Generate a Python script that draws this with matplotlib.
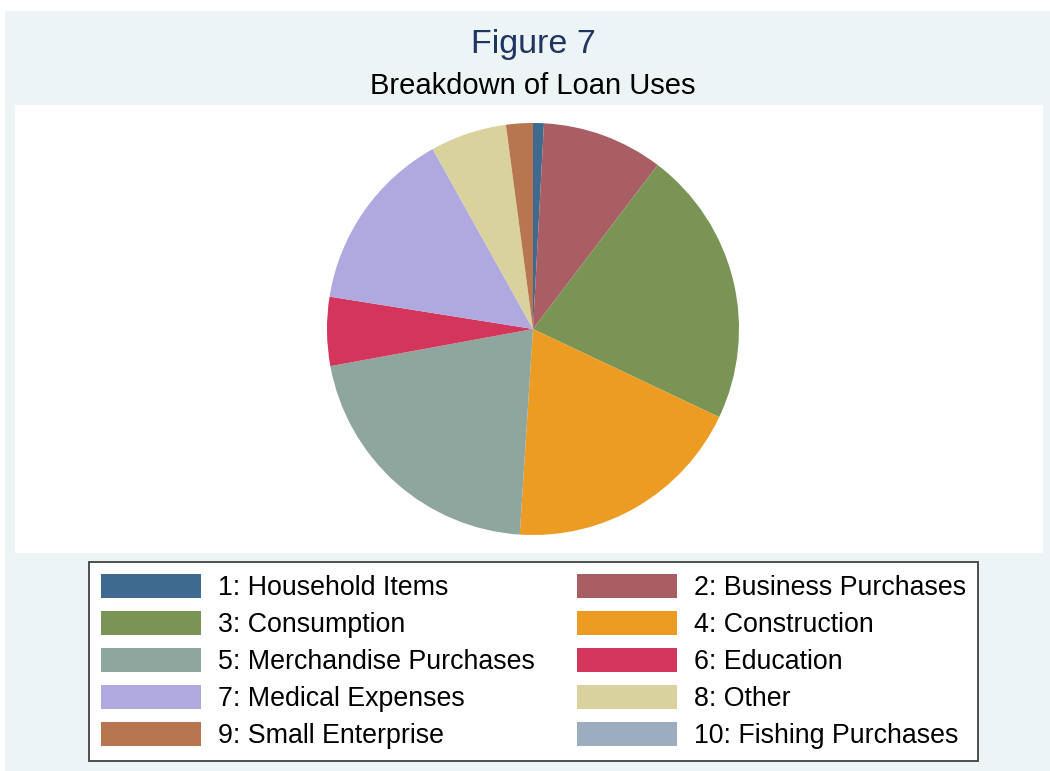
import matplotlib.pyplot as plt
from matplotlib.patches import Rectangle

plt.rcParams['font.family'] = ['Liberation Sans', 'DejaVu Sans']

# loan use shares in percent, clockwise from 12 o'clock
uses = ['1: Household Items', '2: Business Purchases', '3: Consumption',
        '4: Construction', '5: Merchandise Purchases', '6: Education',
        '7: Medical Expenses', '8: Other', '9: Small Enterprise',
        '10: Fishing Purchases']
shares = [0.85, 9.5, 21.7, 19.0, 21.1, 5.4, 14.4, 6.0, 2.1, 0.0]
colors = ['#3e6a8f', '#a85e62', '#7a9456', '#ec9c22', '#8fa69e',
          '#d3365a', '#afa9e0', '#d9d29d', '#b87650', '#9badbf']

W, H = 1050, 771
fig = plt.figure(figsize=(W / 100, H / 100), dpi=100)
fig.patch.set_facecolor('white')

def px_rect(x0, y0, x1, y1, **kw):
    # rectangle given in pixel coords measured from top-left
    fig.add_artist(Rectangle((x0 / W, 1 - y1 / H), (x1 - x0) / W, (y1 - y0) / H,
                             transform=fig.transFigure, **kw))

# graph region and plot region backgrounds
px_rect(5, 11, W, H, facecolor='#edf4f5', edgecolor='none', zorder=0)
px_rect(15, 105, 1043, 553, facecolor='white', edgecolor='none', zorder=0)

fig.text(533 / W, 1 - 44 / H, 'Figure 7', ha='center', va='center',
         fontsize=24.5, color='#1e3461')
fig.text(533 / W, 1 - 86 / H, 'Breakdown of Loan Uses', ha='center', va='center',
         fontsize=21, color='black')

# pie axes: centre (533, 329), radius 206 px
cx, cy, r = 533, 329, 206
ax = fig.add_axes([(cx - r) / W, 1 - (cy + r) / H, 2 * r / W, 2 * r / H])
wedges, _ = ax.pie(shares, colors=colors, startangle=90, counterclock=False,
                   radius=1, wedgeprops=dict(linewidth=0))
ax.set_xlim(-1, 1)
ax.set_ylim(-1, 1)
ax.set_aspect('equal')
ax.axis('off')

# legend filled row-wise (1,2 / 3,4 ...) like the original layout
order = [0, 2, 4, 6, 8, 1, 3, 5, 7, 9]
fs = 19.3
leg = fig.legend([wedges[i] for i in order], [uses[i] for i in order],
                 ncol=2, loc='center', bbox_to_anchor=(533.5 / W, 1 - 661.5 / H),
                 fontsize=fs, frameon=True, fancybox=False, framealpha=1,
                 handlelength=72 / fs, handleheight=19.4 / fs,
                 handletextpad=0.63, columnspacing=1.6, labelspacing=0.37,
                 borderpad=0.45, borderaxespad=0)
leg.get_frame().set_edgecolor('#404040')
leg.get_frame().set_linewidth(1.3)
leg.get_frame().set_facecolor('white')

fig.savefig('out.png', dpi=100)
